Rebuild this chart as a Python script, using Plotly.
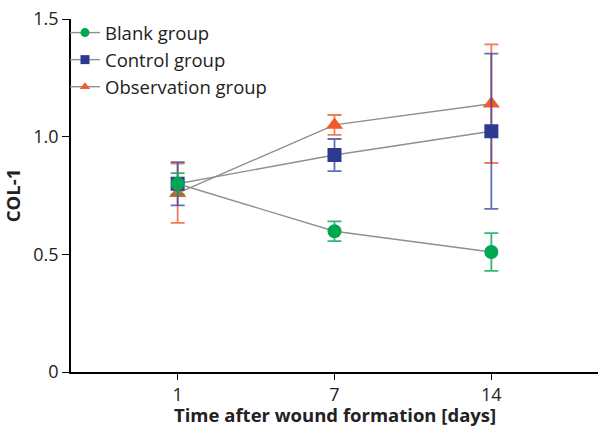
import plotly.graph_objects as go

days = ["1", "7", "14"]
group_names = ["Blank group", "Control group", "Observation group"]

blank_mean = [0.80, 0.598, 0.51]
blank_err = [0.045, 0.042, 0.08]
control_mean = [0.80, 0.922, 1.023]
control_err = [0.092, 0.068, 0.33]
obs_mean = [0.76, 1.05, 1.14]
obs_err = [0.126, 0.042, 0.252]

x_title = "Time after wound formation [days]"
y_title = "COL-1"

marker_colors = ["#00A651", "#2E3A8F", "#F15A29"]
err_colors = ["rgba(20,170,90,0.85)", "rgba(60,75,160,0.8)", "rgba(242,90,40,0.8)"]
symbols = ["circle", "square", "triangle-up"]
sizes = [14, 14, 15]

series = [
    (group_names[0], blank_mean, blank_err),
    (group_names[1], control_mean, control_err),
    (group_names[2], obs_mean, obs_err),
]

fig = go.Figure()
# data traces: observation first so blank sits on top
for i in [2, 1, 0]:
    name, mean, err = series[i]
    fig.add_trace(go.Scatter(
        x=days, y=mean, name=name, mode="lines+markers", showlegend=False,
        line=dict(color="#8f8f8f", width=1.4),
        marker=dict(color=marker_colors[i], symbol=symbols[i], size=sizes[i], line=dict(width=0)),
        error_y=dict(type="data", array=err, visible=True, color=err_colors[i], thickness=1.8, width=7),
    ))
# legend entries (no error bars in the key)
for i in range(3):
    fig.add_trace(go.Scatter(
        x=[None], y=[None], name=group_names[i], mode="lines+markers",
        line=dict(color="#8f8f8f", width=1.4),
        marker=dict(color=marker_colors[i], symbol=symbols[i], size=9, line=dict(width=0)),
    ))

font_family = "Open Sans, Noto Sans, sans-serif"
fig.update_layout(
    width=598, height=426,
    margin=dict(l=71, r=0, t=19, b=54),
    paper_bgcolor="white", plot_bgcolor="white",
    font=dict(family=font_family, size=18, color="#222"),
    showlegend=True,
    legend=dict(x=-0.0114, y=1.014, xanchor="left", yanchor="top", traceorder="normal",
                bgcolor="rgba(0,0,0,0)", font=dict(size=18.5), tracegroupgap=0),
    xaxis=dict(
        type="category", range=[-0.68, 2.68], automargin=False,
        showline=True, linecolor="black", linewidth=1.5,
        ticks="outside", ticklen=6, tickcolor="black", tickwidth=1.3,
        showgrid=False, zeroline=False, tickfont=dict(size=18),
    ),
    yaxis=dict(
        range=[0, 1.5], tickvals=[0, 0.5, 1.0, 1.5], ticktext=["0", "0.5", "1.0", "1.5"],
        automargin=False,
        showline=True, linecolor="black", linewidth=1.5,
        ticks="outside", ticklen=7, tickcolor="black", tickwidth=1.3,
        showgrid=False, zeroline=False, tickfont=dict(size=18),
        title=dict(text="<b>" + y_title + "</b>", standoff=8, font=dict(size=18.5)),
    ),
    annotations=[dict(
        text="<b>" + x_title + "</b>", xref="paper", yref="paper",
        x=0.5, y=-0.1204, xanchor="center", yanchor="middle", showarrow=False,
        font=dict(size=18.5, color="#222"),
    )],
)

fig.write_html("out.html", config={"displayModeBar": False},
               post_script="document.body.style.margin='0';")
